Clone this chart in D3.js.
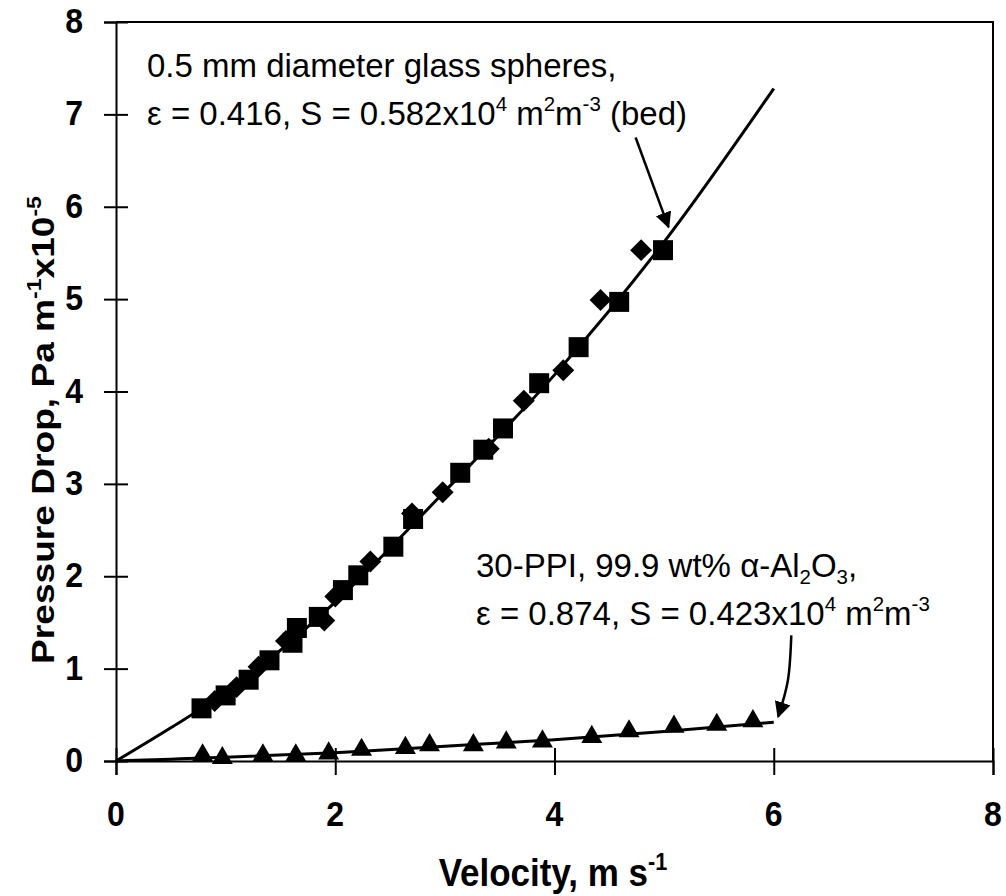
<!DOCTYPE html>
<html lang="en">
<head>
    <meta charset="UTF-8">
    <title>Pressure Drop vs Velocity</title>
    <script src="https://d3js.org/d3.v7.min.js"></script>
    <style>
        body { margin: 0; background: #fff; }
        svg text { font-family: "Liberation Sans", Arial, sans-serif; fill: #000; }
    </style>
</head>
<body>
<svg id="chart" width="1006" height="896"></svg>
<script>
    // glass spheres bed (squares and diamonds)
    const sphereSqX = [0.78, 1.0, 1.21, 1.4, 1.61, 1.65, 1.85, 2.07, 2.21, 2.53, 2.71, 3.14, 3.35, 3.53, 3.86, 4.22, 4.59, 4.99];
    const sphereSqY = [0.57, 0.71, 0.88, 1.09, 1.28, 1.44, 1.56, 1.85, 2.01, 2.32, 2.62, 3.12, 3.37, 3.6, 4.09, 4.48, 4.97, 5.53];
    const sphereDiX = [0.9, 1.1, 1.3, 1.55, 1.9, 2.0, 2.32, 2.7, 2.98, 3.4, 3.72, 4.08, 4.42, 4.79];
    const sphereDiY = [0.65, 0.8, 1.02, 1.3, 1.52, 1.78, 2.16, 2.68, 2.91, 3.38, 3.9, 4.23, 4.99, 5.53];
    // 30-PPI alumina foam (triangles)
    const foamX = [0.79, 0.97, 1.34, 1.64, 1.94, 2.24, 2.64, 2.86, 3.26, 3.56, 3.89, 4.34, 4.68, 5.09, 5.48, 5.81];
    const foamY = [0.04, 0.01, 0.04, 0.04, 0.06, 0.1, 0.12, 0.15, 0.15, 0.18, 0.19, 0.24, 0.3, 0.35, 0.37, 0.41];
    // fitted curves
    const fitX = [0, 0.5, 1, 2, 3, 4, 5, 6];
    const sphereFitY = [0, 0.36, 0.74, 1.72, 2.92, 4.18, 5.62, 7.28];
    const foamFitY = [0, 0.02, 0.04, 0.09, 0.16, 0.23, 0.32, 0.42];
    // annotation arrows (data units)
    const arrow1 = [[4.74, 6.75], [5.04, 5.78]];
    const arrow2 = [[6.16, 1.36], [6.13, 0.88], [6.04, 0.48]];

    const xTicks = [0, 2, 4, 6, 8];
    const yTicks = [0, 1, 2, 3, 4, 5, 6, 7, 8];

    const svg = d3.select("#chart");
    const mLeft = 116, mRight = 993, mTop = 22, mBottom = 761;

    const x = d3.scaleLinear().domain([0, 8]).range([mLeft, mRight]);
    const y = d3.scaleLinear().domain([0, 8]).range([mBottom, mTop]);

    // frame
    svg.append("path")
        .attr("d", `M${mLeft},${mTop}H${mRight}V${mBottom}`)
        .attr("fill", "none").attr("stroke", "#000").attr("stroke-width", 2);

    // axes
    const xAxis = svg.append("g")
        .attr("transform", `translate(0,${mBottom})`)
        .call(d3.axisBottom(x).tickValues(xTicks).tickSize(14).tickFormat(""));
    const yAxis = svg.append("g")
        .attr("transform", `translate(${mLeft},0)`)
        .call(d3.axisLeft(y).tickValues(yTicks).tickSize(12).tickFormat(""));
    [xAxis, yAxis].forEach(a => {
        a.select(".domain").attr("stroke", "#000").attr("stroke-width", 2);
        a.selectAll(".tick line").attr("stroke", "#000").attr("stroke-width", 2);
    });
    xAxis.selectAll(".tick line").attr("y1", -13);
    yAxis.selectAll(".tick line").attr("x1", 12);

    // tick labels
    svg.selectAll(".xl").data(xTicks).enter().append("text")
        .attr("transform", d => `translate(${x(d)},826) scale(1,1.1)`)
        .attr("text-anchor", "middle")
        .attr("font-size", 32).attr("font-weight", "bold")
        .text(d => d);
    svg.selectAll(".yl").data(yTicks).enter().append("text")
        .attr("transform", d => `translate(83,${y(d) + 11}) scale(1,1.1)`)
        .attr("text-anchor", "end")
        .attr("font-size", 32).attr("font-weight", "bold")
        .text(d => d);

    // rich text helper: parts with sup / sub
    function rich(sel, parts, fs) {
        let shift = 0;
        parts.forEach(p => {
            const target = p.sup ? -fs * 0.42 : p.sub ? fs * 0.22 : 0;
            sel.append("tspan")
                .attr("dy", target - shift)
                .attr("font-size", p.sup || p.sub ? fs * 0.62 : fs)
                .text(p.t);
            shift = target;
        });
    }

    // axis titles
    const xt = svg.append("text")
        .attr("transform", "translate(553,886) scale(1,1.1)")
        .attr("text-anchor", "middle")
        .attr("font-weight", "bold").attr("font-size", 35);
    rich(xt, [{ t: "Velocity, m s" }, { t: "-1", sup: true }], 35);

    const yt = svg.append("text")
        .attr("transform", "translate(54,430) rotate(-90) scale(1.16,1)")
        .attr("text-anchor", "middle")
        .attr("font-weight", "bold").attr("font-size", 32);
    rich(yt, [{ t: "Pressure Drop, Pa m" }, { t: "-1", sup: true }, { t: "x10" }, { t: "-5", sup: true }], 32);

    // annotations
    const noteSize = 33;
    const notes = [
        { x: 147, y: 77, parts: [{ t: "0.5 mm diameter glass spheres," }] },
        { x: 147, y: 125, parts: [{ t: "\u03b5 = 0.416, S = 0.582x10" }, { t: "4", sup: true }, { t: " m" }, { t: "2", sup: true }, { t: "m" }, { t: "-3", sup: true }, { t: " (bed)" }] },
        { x: 476, y: 577, parts: [{ t: "30-PPI, 99.9 wt% \u03b1-Al" }, { t: "2", sub: true }, { t: "O" }, { t: "3", sub: true }, { t: "," }] },
        { x: 476, y: 625, parts: [{ t: "\u03b5 = 0.874, S = 0.423x10" }, { t: "4", sup: true }, { t: " m" }, { t: "2", sup: true }, { t: "m" }, { t: "-3", sup: true }] }
    ];
    notes.forEach(n => {
        const t = svg.append("text")
            .attr("transform", `translate(${n.x},${n.y})`)
            .attr("font-size", noteSize);
        rich(t, n.parts, noteSize);
    });

    // fit lines
    const line = d3.line().x(d => x(d[0])).y(d => y(d[1])).curve(d3.curveMonotoneX);
    svg.append("path").datum(d3.zip(fitX, sphereFitY)).attr("d", line)
        .attr("fill", "none").attr("stroke", "#000").attr("stroke-width", 3);
    svg.append("path").datum(d3.zip(fitX, foamFitY)).attr("d", line)
        .attr("fill", "none").attr("stroke", "#000").attr("stroke-width", 3);

    // markers
    svg.selectAll(".sq").data(d3.zip(sphereSqX, sphereSqY)).enter().append("path")
        .attr("transform", d => `translate(${x(d[0])},${y(d[1])})`)
        .attr("d", d3.symbol(d3.symbolSquare, 400)).attr("fill", "#000");
    svg.selectAll(".di").data(d3.zip(sphereDiX, sphereDiY)).enter().append("path")
        .attr("transform", d => `translate(${x(d[0])},${y(d[1])}) rotate(45)`)
        .attr("d", d3.symbol(d3.symbolSquare, 240)).attr("fill", "#000");
    svg.selectAll(".tr").data(d3.zip(foamX, foamY)).enter().append("path")
        .attr("transform", d => `translate(${x(d[0])},${y(d[1]) - 2})`)
        .attr("d", d3.symbol(d3.symbolTriangle, 190)).attr("fill", "#000");

    // arrows
    const defs = svg.append("defs");
    defs.append("marker").attr("id", "head")
        .attr("viewBox", "0 0 10 10").attr("refX", 9).attr("refY", 5)
        .attr("markerWidth", 6.5).attr("markerHeight", 6.5).attr("markerUnits", "strokeWidth")
        .attr("orient", "auto")
        .append("path").attr("d", "M0,0L10,5L0,10z").attr("fill", "#000");
    const aLine = d3.line().x(d => x(d[0])).y(d => y(d[1])).curve(d3.curveCardinal);
    [arrow1, arrow2].forEach(a => {
        svg.append("path").datum(a).attr("d", aLine)
            .attr("fill", "none").attr("stroke", "#000").attr("stroke-width", 2.5)
            .attr("marker-end", "url(#head)");
    });
</script>
</body>
</html>
